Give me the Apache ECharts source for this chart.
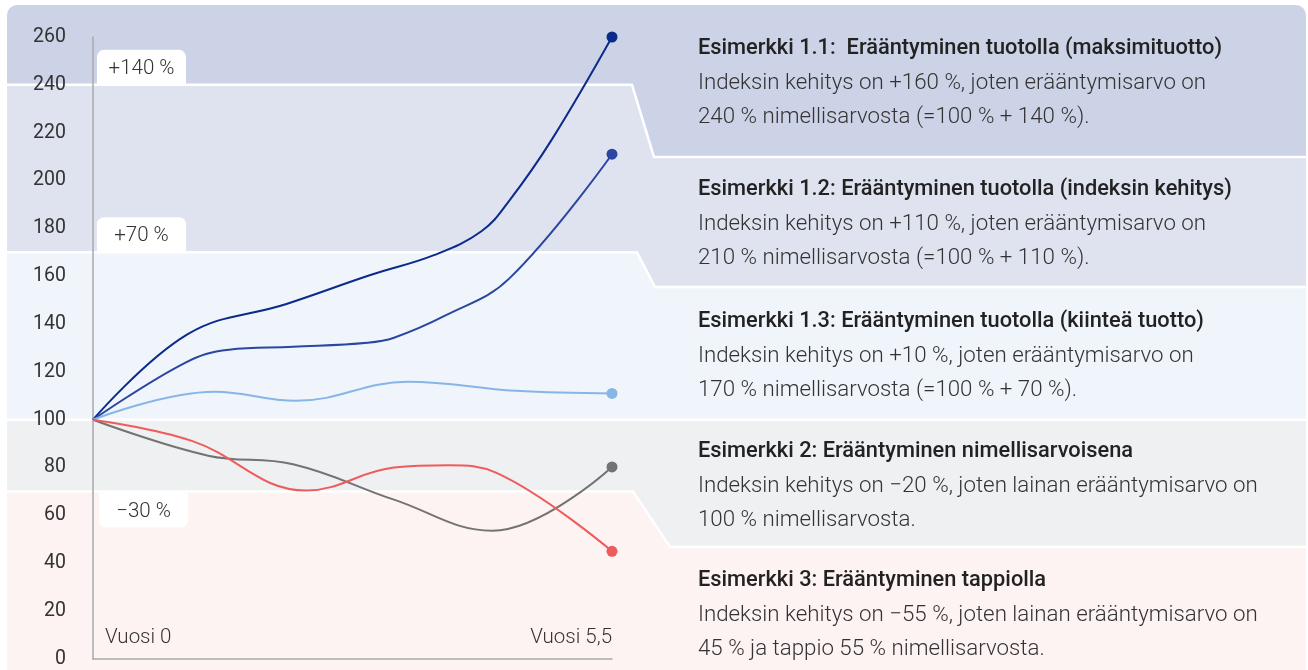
<!DOCTYPE html>
<html>
<head>
<meta charset="utf-8">
<script src="https://cdn.jsdelivr.net/npm/echarts@6/dist/echarts.min.js"></script>
<style>
  html, body { margin: 0; padding: 0; background: #fff; }
  #main { width: 1308px; height: 670px; }
</style>
</head>
<body>
<div id="main"></div>
<script>
// datapisteet: [vuosi, indeksi]
var maxReturn = [[0, 100], [1.0, 135.7], [2.05, 148.4], [2.94, 160.5], [3.62, 168.9], [4.12, 178.9], [4.41, 191.5], [4.86, 217], [5.5, 260]];
var indexReturn = [[0, 100], [0.97, 123.7], [1.44, 129.3], [2.12, 130.5], [2.91, 132.2], [3.19, 134.3], [3.73, 143.5], [4.41, 159], [5.5, 211]];
var fixedReturn = [[0, 100], [1.29, 111.7], [2.15, 107.9], [3.34, 115.9], [4.48, 112.1], [5.5, 111]];
var nominal = [[0, 100], [1.22, 85], [2.12, 81.4], [3.19, 66.6], [4.23, 53.6], [5.5, 80.3]];
var loss = [[0, 100], [1.04, 91.3], [2.26, 70.4], [3.19, 80], [3.77, 81], [4.27, 77.9], [5.5, 45]];

var seriesNames = ['Esimerkki 1.1', 'Esimerkki 1.2', 'Esimerkki 1.3', 'Esimerkki 2', 'Esimerkki 3'];
var colors = ['#0b2a8a', '#2a46a0', '#86b5e6', '#737373', '#ef5b5c'];

// vyöhykkeiden rajat ja niiden merkinnät
var bandLevels = [240, 170, 100, 70];
var bandLabels = ['+140 %', '+70 %', '\u221230 %'];
var bandLabelLevels = [240, 170, 70];

var yearLabels = ['Vuosi 0', 'Vuosi 5,5'];

var notes = [
  ['Esimerkki 1.1:  Erääntyminen tuotolla (maksimituotto)', 'Indeksin kehitys on +160 %, joten erääntymisarvo on', '240 % nimellisarvosta (=100 % + 140 %).'],
  ['Esimerkki 1.2: Erääntyminen tuotolla (indeksin kehitys)', 'Indeksin kehitys on +110 %, joten erääntymisarvo on', '210 % nimellisarvosta (=100 % + 110 %).'],
  ['Esimerkki 1.3: Erääntyminen tuotolla (kiinteä tuotto)', 'Indeksin kehitys on +10 %, joten erääntymisarvo on', '170 % nimellisarvosta (=100 % + 70 %).'],
  ['Esimerkki 2: Erääntyminen nimellisarvoisena', 'Indeksin kehitys on \u221220 %, joten lainan erääntymisarvo on', '100 % nimellisarvosta.'],
  ['Esimerkki 3: Erääntyminen tappiolla', 'Indeksin kehitys on \u221255 %, joten lainan erääntymisarvo on', '45 % ja tappio 55 % nimellisarvosta.']
];

var chartDom = document.getElementById('main');
var myChart = echarts.init(chartDom);
var FONT = 'Roboto, "Noto Sans", sans-serif';

function lineSeries(name, data, color) {
  return {
    name: name,
    type: 'line',
    data: data,
    smooth: 0.4,
    showAllSymbol: true,
    symbol: 'circle',
    symbolSize: function (val, params) {
      return params.dataIndex === data.length - 1 ? 11 : 0;
    },
    itemStyle: { color: color },
    lineStyle: { color: color, width: 2 },
    emphasis: { disabled: true },
    z: 5
  };
}

var option = {
  animation: false,
  backgroundColor: '#fff',
  textStyle: { fontFamily: FONT },
  grid: { left: 93, right: 696, top: 37, bottom: 11 },
  xAxis: {
    type: 'value',
    min: 0,
    max: 5.5,
    z: 4,
    axisLine: { show: true, lineStyle: { color: '#a9a9ac', width: 1.5 } },
    axisTick: { show: false },
    axisLabel: { show: false },
    splitLine: { show: false }
  },
  yAxis: {
    type: 'value',
    min: 0,
    max: 260,
    interval: 20,
    z: 4,
    axisLine: { show: true, lineStyle: { color: '#a9a9ac', width: 1.5 } },
    axisTick: { show: false },
    axisLabel: { color: '#333', fontSize: 19.5, margin: 27, fontFamily: FONT },
    splitLine: { show: false }
  },
  series: [
    lineSeries(seriesNames[0], maxReturn, colors[0]),
    lineSeries(seriesNames[1], indexReturn, colors[1]),
    lineSeries(seriesNames[2], fixedReturn, colors[2]),
    lineSeries(seriesNames[3], nominal, colors[3]),
    lineSeries(seriesNames[4], loss, colors[4])
  ]
};
myChart.setOption(option);

// taustavyöhykkeet, rajat akselin arvoista
var yb = bandLevels.map(function (v) { return myChart.convertToPixel({ yAxisIndex: 0 }, v); });
var x0 = myChart.convertToPixel({ xAxisIndex: 0 }, 0);
var x1 = myChart.convertToPixel({ xAxisIndex: 0 }, 5.5);
var L = 7, R = 1306, T = 5, B = 672;
var rightEdges = [157, 287, yb[2], 547];
var diag = [[632, 654], [637, 655], [640, 640], [633, 670]];
var bandColors = ['#cdd3e7', '#dfe3f0', '#f0f5fb', '#eff0f2', '#fdf3f2'];

var graphics = [];
graphics.push({
  type: 'rect', z: 0, silent: true,
  shape: { x: L, y: T, width: R - L, height: 200, r: [10, 10, 0, 0] },
  style: { fill: bandColors[0] }
});
for (var i = 0; i < 4; i++) {
  var edgeL = yb[i], edgeR = rightEdges[i];
  var d = diag[i];
  graphics.push({
    type: 'polygon', z: 1, silent: true,
    shape: { points: [[L, edgeL], [d[0], edgeL], [d[1], edgeR], [R, edgeR], [R, B], [L, B]] },
    style: { fill: bandColors[i + 1] }
  });
  graphics.push({
    type: 'polyline', z: 1, silent: true,
    shape: { points: [[L, edgeL], [d[0], edgeL], [d[1], edgeR], [R, edgeR]] },
    style: { stroke: '#fff', lineWidth: 2.5, fill: null }
  });
}

// prosenttimerkinnät valkoisissa laatikoissa
bandLabelLevels.forEach(function (v, k) {
  var y = myChart.convertToPixel({ yAxisIndex: 0 }, v);
  var below = v < 100;
  var bx = below ? 99 : 97;
  var by = below ? y + 1 : y - 35;
  graphics.push({
    type: 'rect', z: 10, silent: true,
    shape: { x: bx, y: by, width: 89, height: 35, r: below ? [0, 0, 7, 7] : [7, 7, 0, 0] },
    style: { fill: '#fff' }
  });
  graphics.push({
    type: 'text', z: 11, silent: true,
    x: bx + 44.5, y: by + 19,
    style: { text: bandLabels[k], fill: '#333', font: '300 20.5px ' + FONT, align: 'center', verticalAlign: 'middle' }
  });
});

// vuosimerkinnät
graphics.push({
  type: 'text', z: 11, silent: true, x: x0 + 12, y: 638,
  style: { text: yearLabels[0], fill: '#333', font: '300 20.5px ' + FONT, align: 'left', verticalAlign: 'middle' }
});
graphics.push({
  type: 'text', z: 11, silent: true, x: x1, y: 638,
  style: { text: yearLabels[1], fill: '#333', font: '300 20.5px ' + FONT, align: 'right', verticalAlign: 'middle' }
});

// selitystekstit oikealla
var noteTops = [49, 190, 322, 452, 581];
notes.forEach(function (n, k) {
  graphics.push({
    type: 'text', z: 11, silent: true, x: 698, y: noteTops[k],
    style: { text: n[0], fill: '#222', font: '500 21.8px ' + FONT, align: 'left', verticalAlign: 'middle' }
  });
  graphics.push({
    type: 'text', z: 11, silent: true, x: 698, y: noteTops[k] + 34,
    style: { text: n[1], fill: '#333', font: '300 22.3px ' + FONT, align: 'left', verticalAlign: 'middle' }
  });
  graphics.push({
    type: 'text', z: 11, silent: true, x: 698, y: noteTops[k] + 68,
    style: { text: n[2], fill: '#333', font: '300 22.3px ' + FONT, align: 'left', verticalAlign: 'middle' }
  });
});

myChart.setOption({ graphic: graphics });
</script>
</body>
</html>
